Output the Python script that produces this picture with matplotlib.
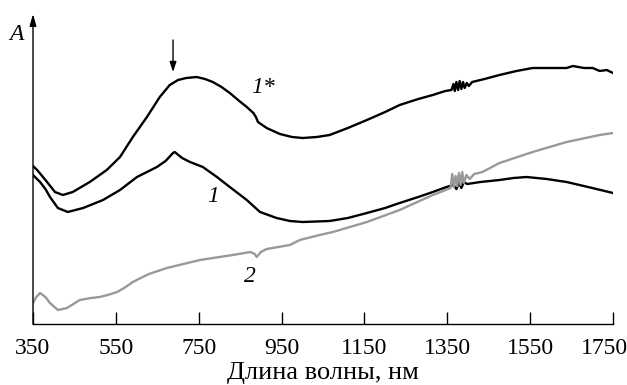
import matplotlib.pyplot as plt
from matplotlib.transforms import ScaledTranslation

plt.rcParams['font.family'] = ['Liberation Serif', 'DejaVu Serif']

# wavelength (nm) and absorbance (arbitrary units)
wl_1s = [350, 360, 372, 384, 403, 422, 446, 487, 528, 560, 591, 625, 656, 680,
         700, 720, 745, 765, 784, 805, 825, 845, 866, 882, 888, 893, 914, 946,
         975, 1001, 1035, 1066, 1110, 1156, 1200, 1235, 1280, 1315, 1345, 1360,
         1365, 1368, 1372, 1376, 1380, 1384, 1388, 1392, 1397, 1402, 1410, 1440,
         1476, 1517, 1556, 1600, 1638, 1653, 1680, 1701, 1718, 1735, 1750]
a_1s = [158, 154, 148, 142, 132, 129, 132, 142, 154, 167, 187, 207, 227, 239,
        244, 246, 247, 245, 242, 237, 231, 224, 217, 211, 207, 202, 196, 190,
        187, 186, 187, 189, 196, 204, 212, 219, 225, 229, 233, 234,
        240, 233, 242, 234, 243, 235, 242, 236, 241, 238, 242, 245,
        249, 253, 256, 256, 256, 258, 256, 256, 253, 254, 251]

wl_1 = [350, 367, 380, 391, 410, 434, 471, 519, 560, 601, 649, 670, 688, 692,
        710, 729, 760, 794, 825, 866, 898, 938, 970, 1001, 1066, 1110, 1156,
        1200, 1235, 1280, 1315, 1348, 1365, 1372, 1378, 1384, 1390, 1398, 1430,
        1476, 1510, 1541, 1590, 1638, 1700, 1750]
a_1 = [149, 142, 135, 127, 116, 112, 116, 124, 134, 147, 157, 163, 171, 172,
       166, 162, 157, 147, 137, 124, 112, 106, 103, 102, 103, 106, 111,
       116, 121, 127, 132, 137, 139, 135, 141, 136, 142, 140, 142,
       144, 146, 147, 145, 142, 136, 131]

wl_2 = [350, 358, 367, 380, 391, 410, 432, 463, 490, 511, 530, 553, 570, 591,
        610, 630, 673, 753, 832, 875, 885, 890, 900, 914, 970, 994, 1042, 1074,
        1156, 1235, 1315, 1340, 1358, 1362, 1366, 1370, 1374, 1378, 1382, 1386,
        1390, 1396, 1404, 1415, 1435, 1476, 1556, 1638, 1718, 1750]
a_2 = [21, 27, 31, 27, 21, 14, 16, 24, 26, 27, 29, 32, 36, 42,
       46, 50, 56, 64, 69, 72, 70, 67, 72, 75, 79, 84, 89, 92,
       102, 114, 129, 133, 136, 150, 137, 148, 138, 151, 139, 152,
       141, 149, 145, 150, 152, 161, 172, 182, 189, 191]

xticks = [350, 550, 750, 950, 1150, 1350, 1550, 1750]

fig = plt.figure(figsize=(6.27, 3.85), dpi=100)
ax = fig.add_axes([33 / 627, 1 - 324 / 385, 580 / 627, 310 / 385])

ax.plot(wl_1s, a_1s, color='black', lw=1.7)
ax.plot(wl_1, a_1, color='black', lw=1.7)
ax.plot(wl_2, a_2, color='#999999', lw=1.7)

ax.set_xlim(350, 1750)
ax.set_ylim(0, 310)

# axes look: bottom line with inner ticks, y axis as an arrow
for s in ['top', 'right', 'left']:
    ax.spines[s].set_visible(False)
ax.spines['bottom'].set_linewidth(1.0)
ax.set_yticks([])
ax.set_xticks(xticks)
ax.tick_params(axis='x', direction='in', length=9, width=1.0, labelsize=17, pad=10)
last = ax.get_xticklabels()[-1]
last.set_transform(last.get_transform() + ScaledTranslation(-9 / 100, 0, fig.dpi_scale_trans))

ax.annotate('', xy=(350, 310), xytext=(350, 0), annotation_clip=False,
            arrowprops=dict(arrowstyle='-|>,head_length=0.7,head_width=0.2',
                            color='black', lw=1.0, shrinkA=0, shrinkB=0))

ax.set_xlabel('Длина волны, нм', fontsize=19, labelpad=2)

ax.text(311, 289, 'A', fontsize=17, style='italic', ha='center', va='center', clip_on=False)
ax.text(905, 236, '1*', fontsize=17, style='italic', ha='center', va='center')
ax.text(784, 127, '1', fontsize=17, style='italic', ha='center', va='center')
ax.text(873, 47, '2', fontsize=17, style='italic', ha='center', va='center')

# arrow marking the band
ax.annotate('', xy=(688, 252), xytext=(688, 284),
            arrowprops=dict(arrowstyle='-|>,head_length=0.6,head_width=0.2',
                            color='black', lw=1.0, shrinkA=0, shrinkB=0))

fig.savefig('out.png', dpi=100)
